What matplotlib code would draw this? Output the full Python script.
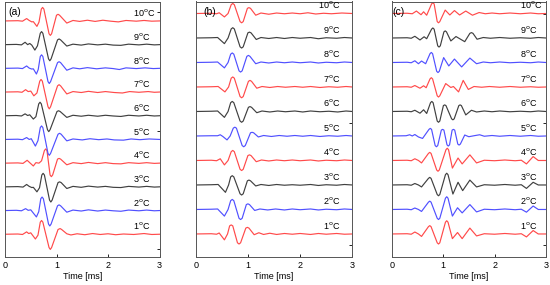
import matplotlib
matplotlib.use("Agg")
import matplotlib.pyplot as plt

plt.rcParams['font.family'] = ['Liberation Sans', 'DejaVu Sans']

temps = ['1', '2', '3', '4', '5', '6', '7', '8', '9', '10']
colors = ['#ff4a4a', '#5050ff', '#404040']  # red, blue, black cycle from 1 upwards

# panel (a): (time ms, amplitude) readings, one list per temperature
a1 = [(0, 0), (0.25, 0.01), (0.34, -0.01), (0.42, 0.10), (0.46, 0.03), (0.5, 0.06), (0.59, -0.2), (0.64, -0.04),
      (0.685, 0.51), (0.71, 0.58), (0.735, 0.51), (0.855, -0.56), (0.88, -0.64), (0.905, -0.56), (1.03, 0.2),
      (1.07, 0.24), (1.1, 0.2), (1.2, 0.02), (1.28, -0.03), (1.4, 0.02), (1.55, -0.02), (1.7, 0.03), (1.85, -0.01),
      (2.0, 0.02), (2.15, -0.02), (2.3, 0.01), (2.5, -0.01), (2.7, 0.03), (2.85, -0.01), (3.0, 0.0)]
a2 = [(0, 0), (0.22, 0.01), (0.32, -0.01), (0.40, 0.08), (0.45, 0.01), (0.5, 0.03), (0.61, -0.27), (0.655, -0.05),
      (0.695, 0.50), (0.72, 0.57), (0.745, 0.50), (0.845, -0.57), (0.87, -0.65), (0.895, -0.57), (1.02, 0.2),
      (1.05, 0.24), (1.08, 0.2), (1.2, -0.07), (1.32, 0.02), (1.48, -0.02), (1.62, 0.03), (1.8, -0.02), (1.95, 0.02),
      (2.1, -0.01), (2.25, -0.03), (2.4, 0.02), (2.6, -0.01), (2.75, 0.02), (2.9, -0.01), (3.0, 0.0)]
a3 = [(0, 0), (0.25, 0.01), (0.35, -0.01), (0.42, 0.10), (0.47, 0.02), (0.52, -0.03), (0.55, -0.02), (0.62, -0.21),
      (0.67, -0.04), (0.715, 0.50), (0.74, 0.57), (0.765, 0.50), (0.865, -0.56), (0.89, -0.64), (0.915, -0.56),
      (1.03, 0.18), (1.06, 0.21), (1.09, 0.18), (1.2, -0.07), (1.32, 0.02), (1.48, -0.02), (1.62, 0.03),
      (1.8, -0.01), (1.95, 0.02), (2.1, -0.02), (2.25, -0.03), (2.4, 0.02), (2.6, -0.01), (2.75, 0.02),
      (2.9, -0.01), (3.0, 0.0)]
a4 = [(0, 0), (0.25, 0.01), (0.35, -0.01), (0.43, 0.12), (0.48, 0.02), (0.55, -0.12), (0.60, 0.02), (0.66, 0.0),
      (0.71, 0.1), (0.765, 0.53), (0.79, 0.60), (0.815, 0.53), (0.875, -0.5), (0.90, -0.57), (0.925, -0.5),
      (1.02, 0.17), (1.05, 0.20), (1.08, 0.17), (1.2, -0.07), (1.32, 0.02), (1.48, -0.02), (1.62, 0.03),
      (1.8, -0.02), (1.95, 0.02), (2.1, -0.02), (2.25, -0.03), (2.4, 0.02), (2.6, -0.01), (2.75, 0.02),
      (2.9, -0.01), (3.0, 0.0)]
a5 = [(0, 0), (0.25, 0.01), (0.34, -0.01), (0.42, 0.08), (0.47, 0.0), (0.51, 0.03), (0.59, -0.28), (0.64, -0.05),
      (0.685, 0.50), (0.71, 0.57), (0.735, 0.50), (0.835, -0.59), (0.86, -0.67), (0.885, -0.59), (1.03, 0.22),
      (1.06, 0.26), (1.09, 0.22), (1.2, -0.06), (1.32, 0.02), (1.5, -0.02), (1.65, 0.03), (1.82, -0.01),
      (1.98, 0.02), (2.12, -0.02), (2.3, -0.03), (2.45, 0.02), (2.62, -0.01), (2.8, 0.02), (3.0, 0.0)]
a6 = [(0, 0), (0.22, 0.01), (0.32, -0.01), (0.39, 0.08), (0.44, 0.01), (0.48, 0.04), (0.55, -0.14), (0.60, -0.04),
      (0.655, 0.50), (0.68, 0.57), (0.705, 0.50), (0.825, -0.59), (0.85, -0.67), (0.875, -0.59), (1.01, 0.18),
      (1.04, 0.21), (1.07, 0.18), (1.2, -0.07), (1.32, 0.02), (1.48, -0.02), (1.62, 0.02), (1.8, -0.02),
      (1.95, 0.02), (2.1, -0.01), (2.25, -0.03), (2.4, 0.02), (2.6, -0.01), (2.75, 0.02), (2.9, -0.01), (3.0, 0.0)]
a7 = [(0, 0), (0.25, 0.01), (0.33, -0.01), (0.40, 0.10), (0.45, 0.02), (0.50, 0.04), (0.56, -0.16), (0.62, -0.04),
      (0.675, 0.46), (0.70, 0.53), (0.725, 0.46), (0.835, -0.62), (0.86, -0.71), (0.885, -0.62), (1.02, 0.26),
      (1.05, 0.31), (1.08, 0.26), (1.2, -0.08), (1.32, 0.02), (1.48, -0.02), (1.62, 0.03), (1.8, -0.02),
      (1.95, 0.02), (2.12, -0.02), (2.28, -0.04), (2.42, 0.02), (2.6, -0.01), (2.78, 0.02), (2.9, -0.01), (3.0, 0.0)]
a8 = [(0, 0), (0.25, 0.01), (0.34, -0.01), (0.42, 0.10), (0.47, 0.01), (0.52, -0.03), (0.55, -0.02), (0.61, -0.24),
      (0.645, -0.05), (0.685, 0.50), (0.71, 0.57), (0.735, 0.50), (0.835, -0.56), (0.86, -0.64), (0.885, -0.56),
      (1.02, 0.24), (1.05, 0.28), (1.08, 0.24), (1.2, -0.08), (1.32, 0.02), (1.45, -0.02), (1.6, 0.03),
      (1.78, -0.02), (1.95, 0.02), (2.1, -0.01), (2.22, -0.05), (2.35, 0.02), (2.55, -0.01), (2.72, 0.02),
      (2.88, -0.01), (3.0, 0.0)]
a9 = [(0, 0), (0.22, 0.01), (0.32, -0.01), (0.39, 0.10), (0.44, 0.0), (0.48, 0.05), (0.52, -0.02), (0.58, -0.23),
      (0.63, -0.05), (0.685, 0.48), (0.71, 0.55), (0.735, 0.48), (0.845, -0.60), (0.87, -0.68), (0.895, -0.60),
      (1.02, 0.20), (1.05, 0.24), (1.08, 0.20), (1.2, -0.06), (1.32, 0.02), (1.48, -0.02), (1.62, 0.03),
      (1.8, -0.01), (1.95, 0.02), (2.1, -0.02), (2.25, -0.03), (2.4, 0.02), (2.6, -0.01), (2.75, 0.02),
      (2.9, -0.01), (3.0, 0.0)]
a10 = [(0, 0), (0.25, 0.01), (0.34, -0.01), (0.42, 0.10), (0.47, 0.02), (0.52, -0.04), (0.55, -0.03), (0.62, -0.23),
       (0.66, -0.05), (0.705, 0.50), (0.73, 0.57), (0.755, 0.50), (0.855, -0.54), (0.88, -0.61), (0.905, -0.54),
       (1.0, 0.24), (1.03, 0.28), (1.06, 0.24), (1.2, -0.09), (1.32, 0.02), (1.45, -0.02), (1.6, 0.03),
       (1.75, -0.02), (1.9, 0.03), (2.05, -0.01), (2.2, -0.04), (2.35, 0.02), (2.55, -0.01), (2.7, 0.02),
       (2.85, -0.01), (3.0, 0.0)]

# panel (b)
b1 = [(0, 0), (0.3, 0.01), (0.4, -0.01), (0.45, 0.04), (0.55, -0.24), (0.61, 0.0), (0.65, 0.33), (0.68, 0.37),
      (0.71, 0.33), (0.80, -0.36), (0.83, -0.41), (0.86, -0.36), (0.96, 0.24), (0.99, 0.27), (1.02, 0.24),
      (1.12, -0.03), (1.21, 0.05), (1.3, -0.02), (1.42, 0.03), (1.55, -0.02), (1.7, 0.02), (1.85, -0.01),
      (2.0, 0.02), (2.2, -0.02), (2.35, 0.02), (2.5, -0.01), (2.7, 0.02), (2.85, -0.01), (3.0, 0.0)]
b2 = [(0, 0), (0.3, 0.01), (0.42, 0.02), (0.55, -0.27), (0.62, 0.0), (0.67, 0.36), (0.70, 0.41), (0.73, 0.36),
      (0.83, -0.36), (0.86, -0.41), (0.89, -0.36), (0.97, 0.2), (1.0, 0.23), (1.03, 0.2), (1.13, -0.04),
      (1.23, 0.02), (1.38, -0.02), (1.53, 0.02), (1.7, -0.02), (1.85, 0.02), (2.0, -0.01), (2.2, 0.02),
      (2.35, -0.02), (2.5, 0.01), (2.7, -0.01), (2.85, 0.02), (3.0, 0.0)]
b3 = [(0, 0), (0.3, 0.01), (0.43, 0.02), (0.57, -0.3), (0.63, 0.0), (0.67, 0.33), (0.70, 0.38), (0.73, 0.33),
      (0.85, -0.36), (0.88, -0.41), (0.91, -0.36), (0.99, 0.17), (1.02, 0.2), (1.05, 0.17), (1.15, -0.04),
      (1.25, 0.02), (1.4, -0.02), (1.55, 0.02), (1.7, -0.01), (1.85, 0.01), (2.0, -0.01), (2.2, 0.02),
      (2.35, -0.02), (2.5, 0.01), (2.7, -0.01), (2.85, 0.02), (3.0, 0.0)]
b4 = [(0, 0), (0.3, 0.01), (0.4, -0.01), (0.47, 0.07), (0.55, -0.18), (0.62, 0.0), (0.68, 0.36), (0.71, 0.41),
      (0.74, 0.36), (0.85, -0.36), (0.88, -0.41), (0.91, -0.36), (1.0, 0.2), (1.03, 0.23), (1.06, 0.2),
      (1.16, -0.05), (1.26, 0.02), (1.4, -0.02), (1.55, 0.02), (1.7, -0.01), (1.85, 0.02), (2.0, -0.01),
      (2.2, 0.02), (2.35, -0.02), (2.5, 0.01), (2.7, -0.01), (2.85, 0.02), (3.0, 0.0)]
b5 = [(0, 0), (0.3, 0.01), (0.42, 0.01), (0.47, 0.05), (0.52, -0.02), (0.6, -0.16), (0.66, 0.0), (0.72, 0.32),
      (0.75, 0.36), (0.78, 0.32), (0.89, -0.39), (0.92, -0.44), (0.95, -0.39), (1.05, 0.13), (1.08, 0.15),
      (1.11, 0.13), (1.2, -0.04), (1.3, 0.02), (1.45, -0.02), (1.6, 0.02), (1.75, -0.01), (1.9, 0.02),
      (2.05, -0.01), (2.2, 0.02), (2.38, -0.02), (2.55, 0.01), (2.72, -0.01), (2.88, 0.02), (3.0, 0.0)]
b6 = [(0, 0), (0.3, 0.01), (0.42, 0.02), (0.55, -0.24), (0.62, 0.0), (0.67, 0.36), (0.70, 0.41), (0.73, 0.36),
      (0.85, -0.39), (0.88, -0.44), (0.91, -0.39), (1.01, 0.17), (1.04, 0.2), (1.07, 0.17), (1.17, -0.05),
      (1.27, 0.02), (1.42, -0.02), (1.57, 0.02), (1.72, -0.01), (1.9, 0.02), (2.05, -0.02), (2.2, 0.02),
      (2.38, -0.01), (2.55, 0.01), (2.72, -0.02), (2.88, 0.02), (3.0, 0.0)]
b7 = [(0, 0), (0.3, 0.01), (0.43, 0.02), (0.56, -0.2), (0.63, 0.0), (0.68, 0.36), (0.71, 0.41), (0.74, 0.36),
      (0.85, -0.39), (0.88, -0.44), (0.91, -0.39), (1.01, 0.23), (1.04, 0.27), (1.07, 0.23), (1.17, -0.05),
      (1.27, 0.02), (1.42, -0.02), (1.57, 0.02), (1.72, -0.01), (1.9, 0.02), (2.05, -0.01), (2.2, 0.02),
      (2.38, -0.02), (2.55, 0.01), (2.72, -0.01), (2.88, 0.02), (3.0, 0.0)]
b8 = [(0, 0), (0.3, 0.01), (0.42, 0.02), (0.55, -0.22), (0.62, 0.0), (0.67, 0.34), (0.70, 0.39), (0.73, 0.34),
      (0.83, -0.34), (0.86, -0.39), (0.89, -0.34), (0.98, 0.25), (1.01, 0.29), (1.04, 0.25), (1.15, -0.05),
      (1.25, 0.02), (1.4, -0.02), (1.55, 0.02), (1.7, -0.01), (1.85, 0.02), (2.0, -0.01), (2.2, 0.02),
      (2.35, -0.02), (2.5, 0.01), (2.7, -0.01), (2.85, 0.02), (3.0, 0.0)]
b9 = [(0, 0), (0.3, 0.01), (0.42, 0.02), (0.55, -0.23), (0.62, 0.0), (0.68, 0.37), (0.71, 0.42), (0.74, 0.37),
      (0.85, -0.36), (0.88, -0.41), (0.91, -0.36), (1.0, 0.21), (1.03, 0.24), (1.06, 0.21), (1.16, -0.06),
      (1.25, 0.02), (1.4, -0.02), (1.55, 0.02), (1.7, -0.02), (1.85, 0.02), (2.0, -0.01), (2.2, 0.02),
      (2.35, -0.03), (2.5, 0.01), (2.7, -0.01), (2.85, 0.02), (3.0, 0.0)]
b10 = [(0, 0), (0.3, 0.01), (0.4, -0.01), (0.45, 0.03), (0.55, -0.14), (0.62, 0.0), (0.68, 0.36), (0.71, 0.41),
       (0.74, 0.36), (0.85, -0.33), (0.88, -0.38), (0.91, -0.33), (0.99, 0.21), (1.02, 0.24), (1.05, 0.21),
       (1.15, -0.07), (1.25, 0.02), (1.4, -0.03), (1.55, 0.02), (1.7, -0.01), (1.85, 0.02), (2.0, -0.01),
       (2.15, 0.03), (2.3, -0.02), (2.45, 0.01), (2.6, -0.01), (2.8, 0.02), (3.0, 0.0)]

# panel (c)
c1 = [(0, 0), (0.3, 0.01), (0.38, -0.01), (0.45, 0.08), (0.52, 0.0), (0.58, -0.10), (0.715, 0.30), (0.74, 0.34),
      (0.765, 0.30), (0.885, -0.36), (0.91, -0.41), (0.935, -0.36), (1.045, 0.48), (1.07, 0.54), (1.095, 0.48),
      (1.18, -0.19), (1.28, 0.06), (1.37, -0.19), (1.52, 0.24), (1.65, -0.08), (1.8, 0.01), (2.0, -0.01),
      (2.2, 0.02), (2.4, -0.01), (2.52, 0.01), (2.62, -0.12), (2.75, 0.14), (2.85, 0.0), (3.0, 0.0)]
c2 = [(0, 0), (0.3, 0.01), (0.38, -0.01), (0.45, 0.06), (0.52, 0.0), (0.58, -0.08), (0.715, 0.30), (0.74, 0.34),
      (0.765, 0.30), (0.885, -0.36), (0.91, -0.41), (0.935, -0.36), (1.045, 0.46), (1.07, 0.52), (1.095, 0.46),
      (1.18, -0.27), (1.28, 0.07), (1.37, -0.14), (1.52, 0.2), (1.65, -0.1), (1.8, 0.01), (2.0, -0.01),
      (2.2, 0.02), (2.4, -0.01), (2.52, 0.01), (2.62, -0.11), (2.75, 0.14), (2.85, 0.0), (3.0, 0.0)]
c3 = [(0, 0), (0.3, 0.01), (0.38, -0.01), (0.45, 0.06), (0.52, 0.0), (0.58, -0.08), (0.715, 0.27), (0.74, 0.31),
      (0.765, 0.27), (0.885, -0.39), (0.91, -0.44), (0.935, -0.39), (1.045, 0.42), (1.07, 0.48), (1.095, 0.42),
      (1.19, -0.37), (1.29, 0.11), (1.38, -0.23), (1.52, 0.2), (1.65, -0.08), (1.8, 0.01), (2.0, -0.01),
      (2.2, 0.02), (2.4, -0.01), (2.52, 0.01), (2.62, -0.14), (2.75, 0.11), (2.85, 0.0), (3.0, 0.0)]
c4 = [(0, 0), (0.3, 0.01), (0.38, -0.01), (0.45, 0.07), (0.52, 0.0), (0.58, -0.10), (0.715, 0.29), (0.74, 0.33),
      (0.765, 0.29), (0.875, -0.39), (0.90, -0.44), (0.925, -0.39), (1.055, 0.44), (1.08, 0.50), (1.105, 0.44),
      (1.18, -0.31), (1.29, 0.10), (1.37, -0.14), (1.52, 0.23), (1.65, -0.1), (1.8, 0.01), (2.0, -0.01),
      (2.2, 0.02), (2.4, -0.01), (2.52, 0.01), (2.62, -0.14), (2.75, 0.16), (2.85, 0.0), (3.0, 0.0)]
c5 = [(0, 0), (0.28, 0.01), (0.35, 0.05), (0.40, 0.0), (0.45, 0.06), (0.52, -0.04), (0.60, -0.10), (0.725, 0.27),
      (0.75, 0.31), (0.775, 0.27), (0.845, -0.39), (0.87, -0.44), (0.895, -0.39), (0.965, 0.24), (0.99, 0.27),
      (1.015, 0.24), (1.075, -0.36), (1.10, -0.41), (1.125, -0.36), (1.175, 0.24), (1.20, 0.27), (1.225, 0.24),
      (1.285, -0.33), (1.31, -0.37), (1.335, -0.33), (1.42, 0.04), (1.5, -0.03), (1.6, 0.01), (1.71, 0.05),
      (1.8, -0.01), (1.95, 0.02), (2.1, -0.01), (2.3, 0.02), (2.5, -0.01), (2.7, 0.02), (2.85, -0.01), (3.0, 0.0)]
c6 = [(0, 0), (0.3, 0.01), (0.38, -0.01), (0.45, 0.05), (0.55, -0.07), (0.62, 0.07), (0.68, -0.08), (0.755, 0.36),
      (0.78, 0.41), (0.805, 0.36), (0.885, -0.39), (0.91, -0.44), (0.935, -0.39), (1.005, 0.24), (1.03, 0.27),
      (1.055, 0.24), (1.165, -0.3), (1.19, -0.34), (1.215, -0.3), (1.305, 0.24), (1.33, 0.27), (1.355, 0.24),
      (1.44, -0.14), (1.55, 0.05), (1.65, -0.02), (1.8, 0.02), (1.95, -0.01), (2.1, 0.02), (2.3, -0.01),
      (2.5, 0.01), (2.7, -0.01), (2.85, 0.02), (3.0, 0.0)]
c7 = [(0, 0), (0.3, 0.01), (0.38, -0.01), (0.45, 0.06), (0.55, -0.05), (0.62, 0.05), (0.67, -0.03), (0.745, 0.33),
      (0.77, 0.38), (0.795, 0.33), (0.885, -0.36), (0.91, -0.41), (0.935, -0.36), (1.05, 0.14), (1.15, -0.02),
      (1.2, 0.02), (1.30, -0.2), (1.39, 0.27), (1.49, -0.1), (1.6, 0.02), (1.75, -0.01), (1.9, 0.02),
      (2.1, -0.01), (2.3, 0.02), (2.5, -0.01), (2.7, 0.01), (2.85, -0.01), (3.0, 0.0)]
c8 = [(0, 0), (0.3, 0.01), (0.38, -0.01), (0.45, 0.07), (0.52, -0.05), (0.58, 0.06), (0.66, -0.05), (0.745, 0.36),
      (0.77, 0.41), (0.795, 0.36), (0.875, -0.36), (0.90, -0.41), (0.925, -0.36), (1.01, 0.2), (1.11, -0.14),
      (1.22, 0.14), (1.36, -0.18), (1.52, 0.18), (1.65, -0.05), (1.78, 0.02), (1.92, -0.01), (2.1, 0.02),
      (2.3, -0.01), (2.5, 0.01), (2.7, -0.01), (2.85, 0.02), (3.0, 0.0)]
c9 = [(0, 0), (0.3, 0.01), (0.38, -0.01), (0.45, 0.07), (0.55, -0.08), (0.63, 0.05), (0.68, -0.03), (0.775, 0.36),
      (0.80, 0.41), (0.825, 0.36), (0.895, -0.32), (0.92, -0.37), (0.945, -0.32), (1.015, 0.25), (1.04, 0.29),
      (1.065, 0.25), (1.15, -0.12), (1.25, 0.06), (1.42, -0.15), (1.52, 0.19), (1.55, 0.22), (1.58, 0.19),
      (1.66, -0.05), (1.78, 0.02), (1.92, -0.01), (2.1, 0.02), (2.3, -0.01), (2.5, 0.01), (2.7, -0.01),
      (2.85, 0.02), (3.0, 0.0)]
c10 = [(0, 0), (0.3, 0.01), (0.4, -0.01), (0.48, 0.10), (0.57, -0.05), (0.62, 0.07), (0.68, -0.07), (0.775, 0.39),
       (0.80, 0.44), (0.825, 0.39), (0.885, -0.33), (0.91, -0.38), (0.935, -0.33), (1.04, 0.14), (1.13, -0.06),
       (1.22, 0.12), (1.32, -0.06), (1.44, 0.10), (1.57, -0.07), (1.7, 0.04), (1.82, -0.01), (1.95, 0.02),
       (2.1, -0.01), (2.3, 0.02), (2.5, -0.01), (2.7, 0.02), (2.85, -0.01), (3.0, 0.0)]

panels = [
    dict(tag='(a)', traces=[a1, a2, a3, a4, a5, a6, a7, a8, a9, a10], ylim=(0.04, 10.82),
         rect=[5 / 550, 28 / 285, 154.5 / 550, 255.5 / 285], lab_x=2.48, lab_ha='left', tag_x=0.02,
         rticks=[0.36, 5.36, 10.36]),
    dict(tag='(b)', traces=[b1, b2, b3, b4, b5, b6, b7, b8, b9, b10], ylim=(0.06, 10.49),
         rect=[195.7 / 550, 28 / 285, 156.6 / 550, 255.5 / 285], lab_x=2.77, lab_ha='right', tag_x=0.05,
         rticks=[0.55, 5.55]),
    dict(tag='(c)', traces=[c1, c2, c3, c4, c5, c6, c7, c8, c9, c10], ylim=(0.06, 10.49),
         rect=[391.7 / 550, 28 / 285, 154.3 / 550, 255.5 / 285], lab_x=2.5, lab_ha='left', tag_x=0.005,
         rticks=[0.55, 5.55, 10.0]),
]

fig = plt.figure(figsize=(5.5, 2.85), dpi=100)

for p in panels:
    ax = fig.add_axes(p['rect'])
    for i, tr in enumerate(p['traces']):
        t = [q[0] for q in tr]
        v = [q[1] + i + 1 for q in tr]
        ax.plot(t, v, color=colors[i % 3], lw=0.85)
        ax.text(p['lab_x'], i + 1.35, temps[i] + r'$^{\rm o}$C', ha=p['lab_ha'], va='center', fontsize=6.5)
    ax.text(p['tag_x'], 0.96, p['tag'], transform=ax.transAxes, ha='left', va='center', fontsize=7.5)
    ax.set_xlim(0, 3)
    ax.set_ylim(*p['ylim'])
    ax.set_xticks([0, 1, 2, 3])
    ax.tick_params(axis='x', direction='in', length=2, width=0.6, labelsize=6.5, pad=3)
    ax.yaxis.tick_right()
    ax.set_yticks(p['rticks'])
    ax.tick_params(axis='y', direction='in', length=2, width=0.6, labelright=False)
    ax.set_xlabel('Time [ms]', fontsize=6.5, labelpad=1)
    for s in ax.spines.values():
        s.set_color('#555555')
        s.set_linewidth(0.7)

fig.savefig('out.png', dpi=100)
